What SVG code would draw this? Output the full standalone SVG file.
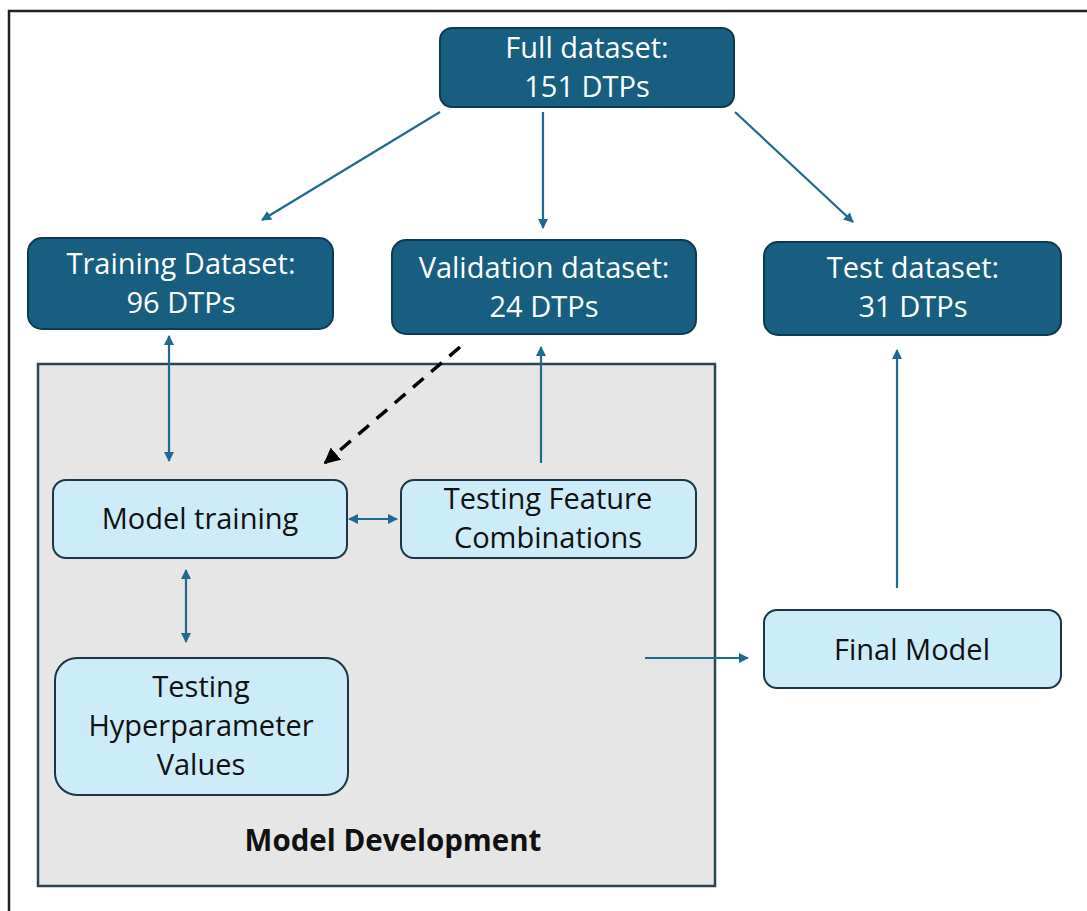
<svg xmlns="http://www.w3.org/2000/svg" width="1087" height="911" viewBox="0 0 1087 911">
<style>
.dark{fill:#175e80;stroke:#0e3a4f;stroke-width:2}
.light{fill:#ccecf9;stroke:#1b3646;stroke-width:2}
.wt{font-family:"Open Sans","Liberation Sans",sans-serif;font-size:29px;fill:#ffffff;text-anchor:middle}
.bt{font-family:"Open Sans","Liberation Sans",sans-serif;font-size:29px;fill:#111111;text-anchor:middle}
.conn{stroke:#1f6a8f;stroke-width:2.2;fill:none}
.dash{stroke:#000;stroke-width:3.5;fill:none;stroke-dasharray:14 10}
</style>
<defs>
<marker id="ah" viewBox="0 0 10 10" refX="9" refY="5" markerWidth="10" markerHeight="10" markerUnits="userSpaceOnUse" orient="auto-start-reverse">
<path d="M0,0 L10,5 L0,10 z" fill="#1f6a8f"/>
</marker>
<marker id="ahk" viewBox="0 0 10 10" refX="9" refY="5" markerWidth="16" markerHeight="16" markerUnits="userSpaceOnUse" orient="auto">
<path d="M0,0 L10,5 L0,10 z" fill="#000"/>
</marker>
</defs>
<rect x="0" y="0" width="1087" height="911" fill="#ffffff"/>
<path d="M9,911 L9,11 L1087,11" fill="none" stroke="#222" stroke-width="2.5"/>

<g id="model-development">
<rect x="38" y="364" width="677" height="522" fill="#e6e6e6" stroke="#2c4656" stroke-width="2.5"/>
<text x="393" y="851" font-family="'Open Sans','Liberation Sans',sans-serif" font-size="29.5" font-weight="bold" fill="#111" text-anchor="middle">Model Development</text>
</g>

<g id="full-dataset">
<rect class="dark" x="440" y="28" width="294" height="79" rx="12"/>
<text class="wt" x="587" y="58">Full dataset:</text>
<text class="wt" x="587" y="97">151 DTPs</text>
</g>
<g id="training-dataset">
<rect class="dark" x="28" y="238" width="305" height="91" rx="14"/>
<text class="wt" x="181" y="274">Training Dataset:</text>
<text class="wt" x="181" y="313">96 DTPs</text>
</g>
<g id="validation-dataset">
<rect class="dark" x="392" y="240" width="304" height="94" rx="14"/>
<text class="wt" x="544" y="278">Validation dataset:</text>
<text class="wt" x="544" y="317">24 DTPs</text>
</g>
<g id="test-dataset">
<rect class="dark" x="764" y="242" width="297" height="93" rx="14"/>
<text class="wt" x="913" y="278">Test dataset:</text>
<text class="wt" x="913" y="317">31 DTPs</text>
</g>
<g id="model-training">
<rect class="light" x="53" y="480" width="294" height="78" rx="13"/>
<text class="bt" x="200" y="529">Model training</text>
</g>
<g id="testing-feature-combinations">
<rect class="light" x="401" y="480" width="295" height="78" rx="13"/>
<text class="bt" x="548" y="509">Testing Feature</text>
<text class="bt" x="548" y="548">Combinations</text>
</g>
<g id="testing-hyperparameter-values">
<rect class="light" x="55" y="658" width="293" height="137" rx="22"/>
<text class="bt" x="201" y="697">Testing</text>
<text class="bt" x="201" y="736">Hyperparameter</text>
<text class="bt" x="201" y="775">Values</text>
</g>
<g id="final-model">
<rect class="light" x="764" y="610" width="297" height="78" rx="13"/>
<text class="bt" x="912" y="660">Final Model</text>
</g>

<g id="connectors">
<line class="conn" x1="440" y1="112" x2="262" y2="220" marker-end="url(#ah)"/>
<line class="conn" x1="543" y1="112" x2="543" y2="228" marker-end="url(#ah)"/>
<line class="conn" x1="735" y1="112" x2="853" y2="222" marker-end="url(#ah)"/>
<line class="conn" x1="169" y1="336" x2="169" y2="461" marker-start="url(#ah)" marker-end="url(#ah)"/>
<line class="dash" x1="460" y1="347" x2="325" y2="463" marker-end="url(#ahk)"/>
<line class="conn" x1="541" y1="463" x2="541" y2="347" marker-end="url(#ah)"/>
<line class="conn" x1="349" y1="519" x2="397" y2="519" marker-start="url(#ah)" marker-end="url(#ah)"/>
<line class="conn" x1="186" y1="570" x2="186" y2="642" marker-start="url(#ah)" marker-end="url(#ah)"/>
<line class="conn" x1="645" y1="658" x2="748" y2="658" marker-end="url(#ah)"/>
<line class="conn" x1="897" y1="588" x2="897" y2="350" marker-end="url(#ah)"/>
</g>
</svg>
